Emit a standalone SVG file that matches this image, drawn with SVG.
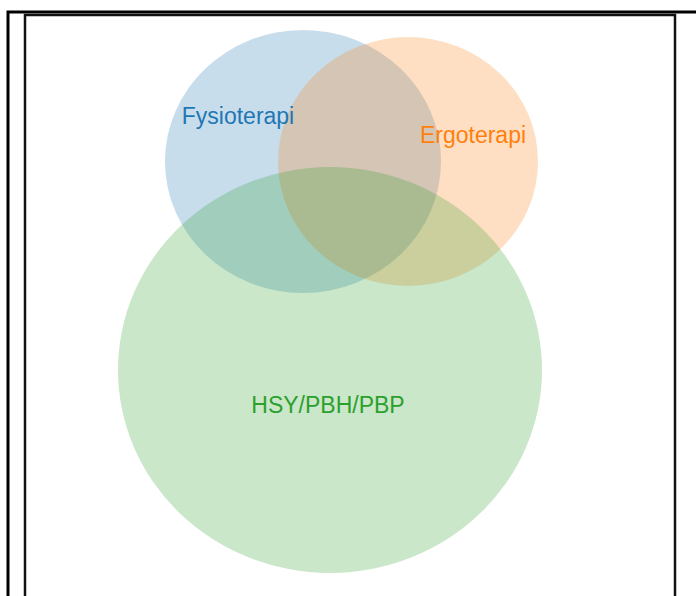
<svg xmlns="http://www.w3.org/2000/svg" width="696" height="596" viewBox="0 0 696 596">
<style>
.lbl{font-family:"Liberation Sans",Arial,sans-serif;font-size:23px;text-anchor:middle}
.set{fill-opacity:0.25;stroke:none}
</style>
<rect width="696" height="596" fill="#fff"/>
<rect x="8" y="12" width="700" height="600" fill="none" stroke="#000" stroke-width="3"/>
<rect x="25" y="15" width="650" height="600" fill="none" stroke="#111" stroke-width="2.5"/>
<g id="fysioterapi">
<ellipse class="set" cx="303" cy="161.5" rx="138" ry="131.5" fill="#1f77b4"/>
</g>
<g id="ergoterapi">
<ellipse class="set" cx="408" cy="161.5" rx="130" ry="124.5" fill="#ff7f0e"/>
</g>
<g id="hsy">
<ellipse class="set" cx="330" cy="370" rx="212" ry="203" fill="#2ca02c"/>
</g>
<g id="labels">
<text class="lbl" x="238" y="124" fill="#1f77b4">Fysioterapi</text>
<text class="lbl" x="473" y="143" fill="#ff7f0e">Ergoterapi</text>
<text class="lbl" x="328" y="413" fill="#2ca02c">HSY/PBH/PBP</text>
</g>
<g id="connectors"></g>
</svg>
